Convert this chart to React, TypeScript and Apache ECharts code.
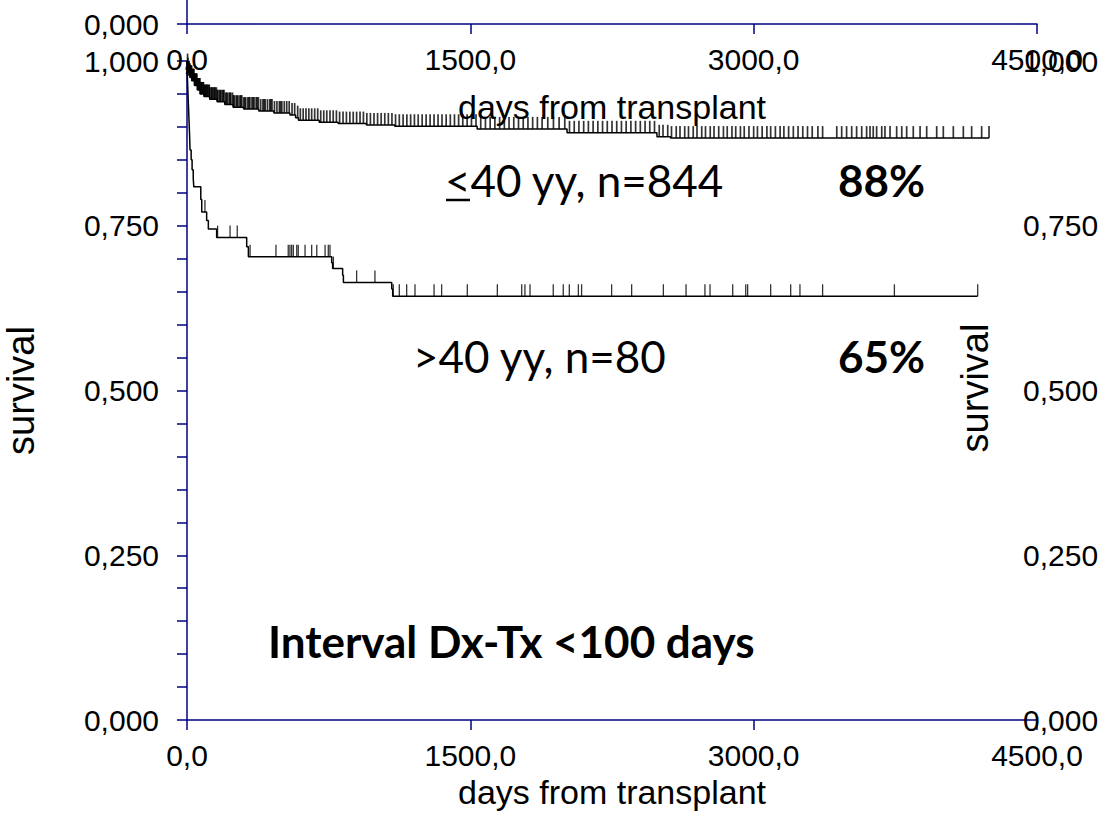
import React, { useEffect, useRef } from "react";
import * as echarts from "echarts";

// Kaplan-Meier steps (day of event, survival after event)
const upperDays = [0, 2, 4, 7, 11, 16, 25, 40, 55, 69, 90, 120, 160, 200, 244, 300, 380, 460, 545, 575, 590, 700, 800, 950, 1100, 1536, 2012, 2488, 2560, 4246];
const upperSurv = [1, 0.993, 0.987, 0.982, 0.978, 0.975, 0.97, 0.963, 0.956, 0.95, 0.946, 0.942, 0.938, 0.934, 0.93, 0.927, 0.924, 0.921, 0.918, 0.914, 0.91, 0.907, 0.905, 0.903, 0.901, 0.897, 0.891, 0.885, 0.883, 0.883];

const lowerDays = [0, 2, 4, 6, 8, 10, 12, 14, 16, 22, 27, 33, 36, 73, 78, 104, 113, 157, 316, 325, 766, 771, 824, 828, 1084, 1089, 4186];
const lowerSurv = [1, 0.975, 0.96, 0.945, 0.93, 0.915, 0.9, 0.885, 0.865, 0.85, 0.835, 0.822, 0.809, 0.79, 0.771, 0.758, 0.745, 0.732, 0.718, 0.703, 0.694, 0.685, 0.675, 0.664, 0.654, 0.643, 0.643];

// censored observations (days)
const upperCensor = [
  3, 5, 7, 9, 10, 12, 14, 15, 17, 18, 21, 23, 24, 27, 29, 30, 33, 35, 36, 40, 42, 44, 48, 50, 52, 56, 58, 60, 64, 66, 68, 72, 75, 77, 82, 85, 87, 92, 95, 97,
  103, 106, 109, 115, 118, 121, 128, 132, 135, 142, 146, 149, 156, 160, 164, 172, 176, 180, 188, 192, 196, 205, 209, 214, 223, 228, 232, 241, 246, 250, 260, 265, 270, 280, 285, 290,
  300, 306, 311, 322, 328, 333, 344, 350, 355, 366, 372, 378, 390, 402, 408, 414, 426, 438, 444, 450, 463, 476, 489, 495, 502, 515, 528, 541, 556, 570, 586, 600,
  615, 630, 645, 660, 676, 692, 708, 724, 740, 757, 774, 791, 808, 826, 844, 862, 880, 898, 916, 934, 952, 971, 990,
  1009, 1028, 1047, 1066, 1085, 1104, 1124, 1144, 1164, 1184, 1204, 1224, 1245, 1266, 1287, 1308, 1329, 1350, 1372, 1394, 1416, 1438, 1460, 1483, 1506,
  1530, 1555, 1580, 1605, 1630, 1655, 1680, 1705, 1730, 1755, 1780, 1805, 1830, 1855, 1880, 1910, 1940, 1970, 2000, 2025, 2050, 2075,
  2100, 2125, 2150, 2175, 2200, 2225, 2250, 2275, 2300, 2325, 2350, 2375, 2400, 2425, 2450, 2475,
  2500, 2520, 2545, 2565, 2590, 2610, 2635, 2655, 2680, 2700, 2725, 2745, 2770, 2790, 2815, 2840, 2860, 2885, 2905, 2930, 2950, 2975,
  3000, 3020, 3045, 3070, 3090, 3115, 3140, 3160, 3185, 3210, 3235, 3260, 3285, 3310, 3340, 3365,
  3440, 3466, 3492, 3519, 3545, 3572, 3598, 3616, 3633, 3651, 3678, 3695, 3722, 3757, 3784, 3810, 3845, 3881, 3916, 3969, 4004, 4057, 4110, 4154, 4207, 4246,
];
const lowerCensor = [
  95, 162, 228, 266, 334, 471, 536, 545, 554, 563, 581, 589, 625, 660, 687, 731, 748, 757, 775, 898, 995,
  1092, 1124, 1163, 1207, 1308, 1348, 1484, 1643, 1772, 1789, 1816, 1939, 1992, 2024, 2072, 2089,
  2248, 2354, 2522, 2642, 2742, 2769, 2889, 2958, 2968, 3090, 3196, 3245, 3365, 3745, 4186,
];

const xTicks = { min: 0, max: 4500, interval: 1500 };
const labelUpper = "<40 yy, n=844";
const labelLower = ">40 yy, n=80";
const pctUpper = "88%";
const pctLower = "65%";
const title = "Interval Dx-Tx <100 days";

const NAVY = "#000080";
const AX_FONT = "'Liberation Sans', Arial, sans-serif";
const ANN_FONT = "Lato, 'Noto Sans', sans-serif";

function stepValue(days: number[], surv: number[], t: number) {
  let v = surv[0];
  for (let i = 0; i < days.length; i++) if (days[i] <= t) v = surv[i];
  return v;
}

const fmtX = (v: number) => v.toFixed(1).replace(".", ",");
const fmtY = (v: number) => v.toFixed(3).replace(".", ",");

export default function App() {
  const ref = useRef<HTMLDivElement>(null);
  useEffect(() => {
    if (!ref.current) return;
    const chart = echarts.init(ref.current, undefined, { renderer: "svg" });
    const axisLine = { show: true, lineStyle: { color: NAVY, width: 1.5 } };
    const axisTick = { show: true, inside: false, length: 10, lineStyle: { color: NAVY, width: 1.5 } };
    const lblStyle = { color: "#000", fontFamily: AX_FONT, fontSize: 30 };
    const nameStyle = { color: "#000", fontFamily: AX_FONT, fontSize: 34 };

    chart.setOption({
      animation: false,
      backgroundColor: "#fff",
      grid: [
        { left: 187, width: 850, top: 61, height: 659, containLabel: false, outerBoundsMode: "none" },
        { left: 187, width: 850, top: 0, height: 24, containLabel: false, outerBoundsMode: "none" },
      ],
      xAxis: [
        {
          type: "value", gridIndex: 0, position: "bottom", ...xTicks,
          axisLine, axisTick, splitLine: { show: false },
          axisLabel: { ...lblStyle, margin: 20, formatter: fmtX },
          name: "days from transplant", nameLocation: "middle", nameGap: 44, nameTextStyle: nameStyle,
        },
        {
          type: "value", gridIndex: 1, position: "bottom", ...xTicks,
          axisLine, axisTick, splitLine: { show: false },
          axisLabel: { ...lblStyle, margin: 20, formatter: fmtX },
          name: "days from transplant", nameLocation: "middle", nameGap: 66, nameTextStyle: nameStyle,
        },
      ],
      yAxis: [
        {
          type: "value", gridIndex: 0, position: "left", min: 0, max: 1, interval: 0.05,
          axisLine, axisTick, splitLine: { show: false },
          axisLabel: {
            ...lblStyle, margin: 28,
            formatter: (v: number) => (Math.abs(v / 0.25 - Math.round(v / 0.25)) < 1e-6 ? fmtY(v) : ""),
          },
          name: "survival", nameLocation: "middle", nameGap: 147, nameRotate: 90, nameTextStyle: { ...nameStyle, fontSize: 38 },
        },
        {
          type: "value", gridIndex: 0, position: "right", min: 0, max: 1, interval: 0.25, offset: -22,
          axisLine: { show: false }, axisTick: { show: false }, splitLine: { show: false },
          axisLabel: { ...lblStyle, margin: 8, formatter: fmtY },
        },
        {
          type: "value", gridIndex: 1, position: "left", min: 0, max: 1, interval: 1,
          axisLine, axisTick: { ...axisTick, customValues: [0] }, splitLine: { show: false },
          axisLabel: { ...lblStyle, margin: 28, customValues: [0], formatter: (v: number) => (v === 0 ? fmtY(v) : "") },
        },
      ],
      series: [
        {
          type: "line", xAxisIndex: 0, yAxisIndex: 0, step: "end", symbol: "none",
          lineStyle: { color: "#000", width: 1.5 },
          data: upperDays.map((d, i) => [d, upperSurv[i]]),
        },
        {
          type: "line", xAxisIndex: 0, yAxisIndex: 0, step: "end", symbol: "none",
          lineStyle: { color: "#000", width: 1.5 },
          data: lowerDays.map((d, i) => [d, lowerSurv[i]]),
        },
        {
          type: "scatter", xAxisIndex: 0, yAxisIndex: 0, symbol: "rect", symbolSize: [1.7, 12], symbolOffset: [0, -6],
          itemStyle: { color: "#000" },
          data: upperCensor.map((t) => [t, stepValue(upperDays, upperSurv, t)]),
        },
        {
          type: "scatter", xAxisIndex: 0, yAxisIndex: 0, symbol: "rect", symbolSize: [1.3, 12], symbolOffset: [0, -6],
          itemStyle: { color: "#000" },
          data: lowerCensor.map((t) => [t, stepValue(lowerDays, lowerSurv, t)]),
        },
      ],
      graphic: [
        { type: "text", left: 445, top: 158, style: { text: labelUpper, font: `44px ${ANN_FONT}`, fill: "#000" } },
        { type: "line", shape: { x1: 446, y1: 200, x2: 470, y2: 200 }, style: { stroke: "#000", lineWidth: 2.5 } },
        { type: "text", left: 838, top: 158, style: { text: pctUpper, font: `bold 44px ${ANN_FONT}`, fill: "#000" } },
        { type: "text", left: 413, top: 334, style: { text: labelLower, font: `44px ${ANN_FONT}`, fill: "#000" } },
        { type: "text", left: 838, top: 334, style: { text: pctLower, font: `bold 44px ${ANN_FONT}`, fill: "#000" } },
        { type: "text", left: 268, top: 619, style: { text: title, font: `bold 44px ${ANN_FONT}`, fill: "#000" } },
        {
          type: "text", x: 975, y: 388, rotation: Math.PI / 2,
          style: { text: "survival", font: `38px ${AX_FONT}`, fill: "#000", align: "center", verticalAlign: "middle" },
        },
      ],
    });
    return () => chart.dispose();
  }, []);
  return <div ref={ref} style={{ position: "fixed", left: 0, top: 0, width: 1112, height: 827, background: "#fff" }} />;
}
